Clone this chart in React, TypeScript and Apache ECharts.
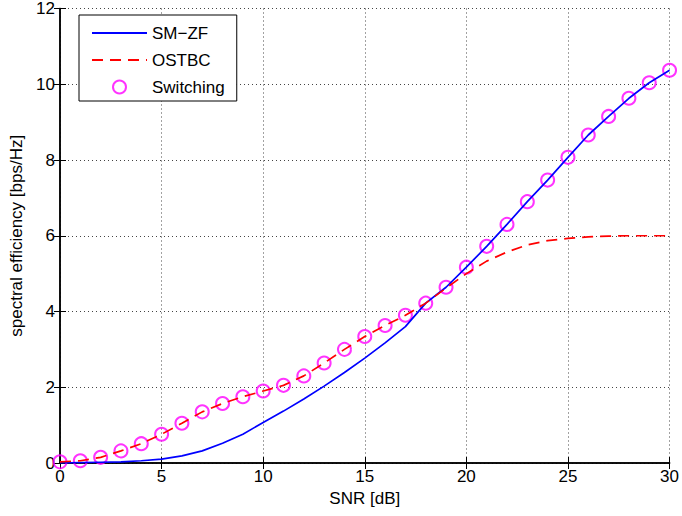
import React, { useEffect, useRef } from "react";
import * as echarts from "echarts";

const snr = [0, 1, 2, 3, 4, 5, 6, 7, 8, 9, 10, 11, 12, 13, 14, 15, 16, 17, 18, 19, 20, 21, 22, 23, 24, 25, 26, 27, 28, 29, 30];
const smzf = [0.0, 0.01, 0.02, 0.03, 0.06, 0.1, 0.19, 0.32, 0.52, 0.76, 1.07, 1.37, 1.69, 2.03, 2.39, 2.77, 3.17, 3.6, 4.22, 4.64, 5.17, 5.72, 6.3, 6.9, 7.47, 8.07, 8.66, 9.15, 9.63, 10.04, 10.37];
const ostbc = [0.03, 0.06, 0.15, 0.32, 0.51, 0.76, 1.05, 1.35, 1.57, 1.75, 1.9, 2.05, 2.3, 2.64, 3.0, 3.34, 3.63, 3.9, 4.22, 4.62, 5.0, 5.33, 5.57, 5.76, 5.87, 5.93, 5.97, 5.99, 6.0, 6.0, 6.0];
const switching = [0.03, 0.06, 0.15, 0.32, 0.51, 0.76, 1.05, 1.35, 1.57, 1.75, 1.9, 2.05, 2.3, 2.64, 3.0, 3.34, 3.63, 3.9, 4.22, 4.64, 5.17, 5.72, 6.3, 6.9, 7.47, 8.07, 8.66, 9.15, 9.63, 10.04, 10.37];
const seriesNames = ["SM\u2212ZF", "OSTBC", "Switching"];
const xLabel = "SNR [dB]";
const yLabel = "spectral efficiency [bps/Hz]";

const FONT = "'Liberation Sans', Arial, Helvetica, sans-serif";
const FS = 17;

export default function App() {
  const ref = useRef<HTMLDivElement>(null);
  useEffect(() => {
    document.body.style.margin = "0";
    if (!ref.current) return;
    const chart = echarts.init(ref.current, undefined, { renderer: "svg" });
    const pairs = (ys: number[]) => snr.map((x, i) => [x, ys[i]]);
    const hidden = { color: "rgba(0,0,0,0)", borderColor: "rgba(0,0,0,0)", borderWidth: 0, opacity: 0 };
    const boxAxis = {
      axisLine: { show: true, lineStyle: { color: "#000", width: 1.5 } },
      axisTick: { show: true, inside: true, length: 6, lineStyle: { color: "#000" } },
      axisLabel: { show: false },
      splitLine: { show: false },
    };
    chart.setOption({
      animation: false,
      backgroundColor: "#fff",
      textStyle: { fontFamily: FONT },
      grid: { left: 60, right: 11, top: 8, bottom: 53 },
      legend: {
        left: 79,
        top: 15,
        orient: "vertical",
        selectedMode: false,
        backgroundColor: "#fff",
        borderColor: "#000",
        borderWidth: 1,
        borderRadius: 0,
        padding: [9, 12, 5, 12],
        itemWidth: 55,
        itemHeight: 13,
        itemGap: 9,
        textStyle: { fontSize: FS, color: "#000", fontFamily: FONT, lineHeight: 18 },
        data: [
          { name: seriesNames[0], itemStyle: hidden },
          { name: seriesNames[1], itemStyle: hidden },
          { name: seriesNames[2] },
        ],
      },
      xAxis: [
        {
          type: "value",
          min: 0,
          max: 30,
          interval: 5,
          name: xLabel,
          nameLocation: "middle",
          nameGap: 23,
          nameTextStyle: { fontSize: FS, color: "#000", fontFamily: FONT },
          axisLine: { show: true, onZero: false, lineStyle: { color: "#000", width: 1.5 } },
          axisTick: { show: true, inside: true, length: 6, lineStyle: { color: "#000" } },
          axisLabel: { fontSize: FS, color: "#000", margin: 5, fontFamily: FONT },
          splitLine: { show: true, lineStyle: { color: "#444", width: 1, type: [1, 3] } },
        },
        { type: "value", min: 0, max: 30, interval: 5, position: "top", ...boxAxis },
      ],
      yAxis: [
        {
          type: "value",
          min: 0,
          max: 12,
          interval: 2,
          name: yLabel,
          nameLocation: "middle",
          nameGap: 33,
          nameTextStyle: { fontSize: FS, color: "#000", fontFamily: FONT },
          axisLine: { show: true, onZero: false, lineStyle: { color: "#000", width: 1.5 } },
          axisTick: { show: true, inside: true, length: 6, lineStyle: { color: "#000" } },
          axisLabel: { fontSize: FS, color: "#000", margin: 5, fontFamily: FONT },
          splitLine: { show: true, lineStyle: { color: "#444", width: 1, type: [1, 3] } },
        },
        { type: "value", min: 0, max: 12, interval: 2, position: "right", ...boxAxis },
      ],
      series: [
        {
          name: seriesNames[0],
          type: "line",
          data: pairs(smzf),
          symbol: "none",
          lineStyle: { color: "#0000ff", width: 1.7 },
          itemStyle: { color: "#0000ff" },
        },
        {
          name: seriesNames[1],
          type: "line",
          data: pairs(ostbc),
          symbol: "none",
          lineStyle: { color: "#ff0000", width: 1.7, type: [11, 7] },
          itemStyle: { color: "#ff0000" },
        },
        {
          name: seriesNames[2],
          type: "scatter",
          data: pairs(switching),
          symbol: "circle",
          symbolSize: 13,
          itemStyle: { color: "rgba(0,0,0,0)", borderColor: "#ff00ff", borderWidth: 2 },
        },
      ],
    });
    return () => chart.dispose();
  }, []);
  return <div ref={ref} style={{ width: 682, height: 516 }} />;
}
